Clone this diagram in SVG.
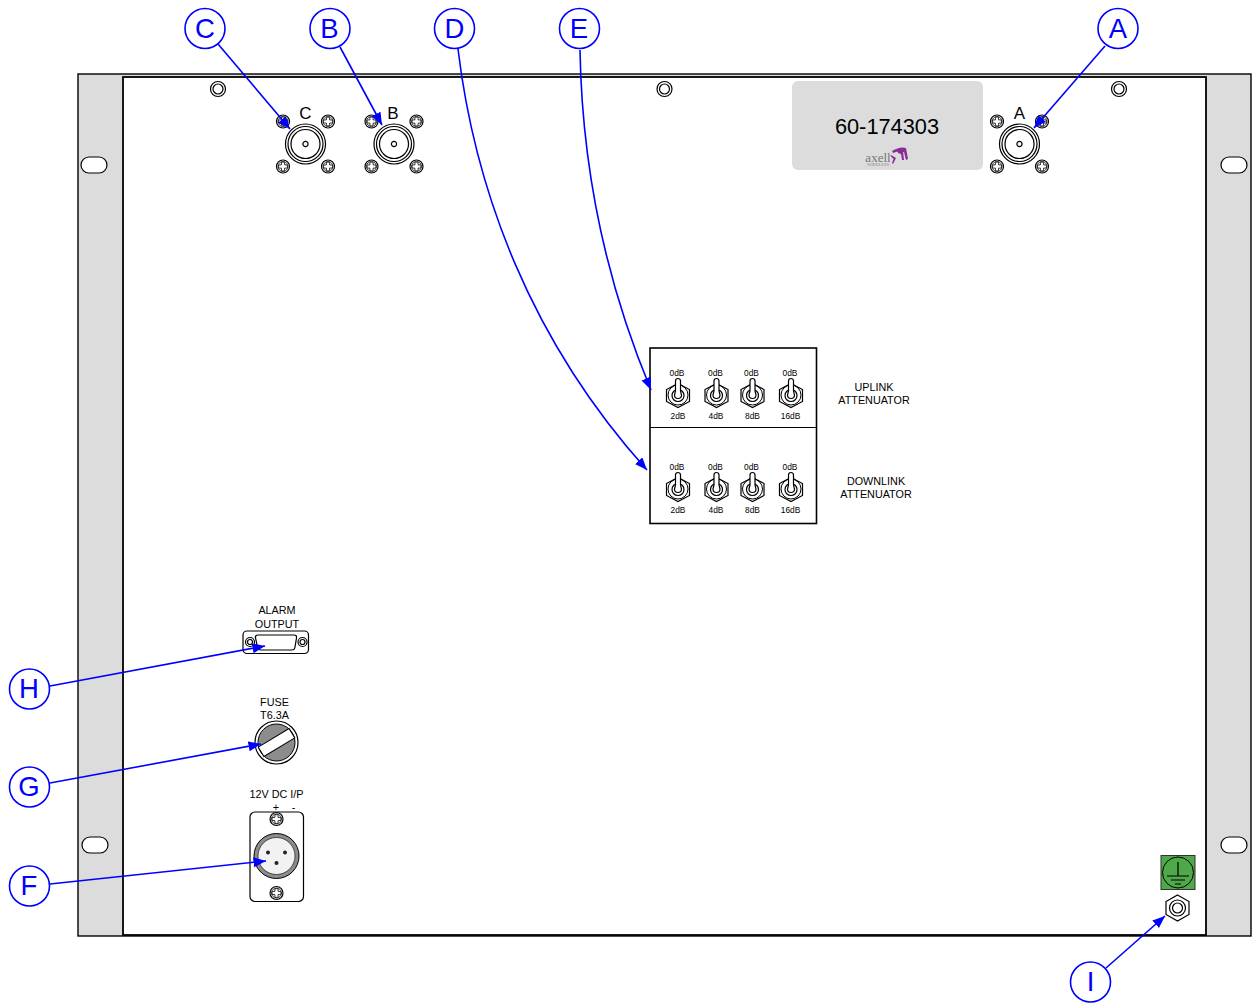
<svg xmlns="http://www.w3.org/2000/svg" width="1255" height="1003" viewBox="0 0 1255 1003">
<style>
.s{fill:none;stroke:#000;stroke-width:1.2}
.w{fill:#fff;stroke:#000;stroke-width:1.2}
text{font-family:"Liberation Sans",Arial,sans-serif;fill:#000}
.t{font-size:10.8px;text-anchor:middle}
.d{font-size:8.4px;text-anchor:middle}
.c{font-size:17px;text-anchor:middle}
.l{font-size:27.5px;text-anchor:middle;fill:#00f}
.lc{fill:#fff;stroke:#00f;stroke-width:1.6}
.a{fill:none;stroke:#00f;stroke-width:1.6;marker-end:url(#ah)}
</style>
<defs>
<marker id="ah" markerUnits="userSpaceOnUse" markerWidth="14" markerHeight="12" refX="12.500" refY="5" orient="auto"><path d="M0 0L12.500 5L0 10Z" fill="#00f"/></marker>
<g id="screw"><circle r="6.500" class="w"/><circle r="5" fill="none" stroke="#000" stroke-width=".7"/><path d="M-1.600-4.400h3.200v2.800h2.800v3.200h-2.800v2.800h-3.200v-2.800h-2.800v-3.200h2.800z" fill="#fff" stroke="#000" stroke-width=".8"/></g>
<g id="rf"><use href="#screw" x="-22.500" y="-22.500"/><use href="#screw" x="22.500" y="-22.500"/><use href="#screw" x="-22.500" y="22.500"/><use href="#screw" x="22.500" y="22.500"/><circle r="20" class="w"/><circle r="17.500" class="s"/><circle r="14.500" class="s"/><circle r="2.600" class="s"/></g>
<g id="tog"><path d="M0-11.500L11.500-5.500V6.500L0 12.500L-11.500 6.500V-5.500Z" class="w" stroke-width="1.600"/><circle r="10" fill="none" stroke="#000" stroke-width="1"/><circle cy=".5" r="6" class="w"/><path d="M-2.500 -1V-14a2.500 2.500 0 0 1 5 0V-1l1 3h-7Z" fill="#fff" stroke="none"/><path d="M-3.500 0L-2.500 -4V-14a2.500 2.500 0 0 1 5 0V-4L3.500 0a3.500 3.500 0 0 1-7 0Z" class="w" stroke-width="1"/></g>
<rect id="slot" x="-13" y="-8" width="26" height="16" rx="8" class="w" stroke-width="1.400"/>
</defs>
<g id="chassis">
<rect x="78" y="74" width="1173" height="862" fill="#dcdcdc" stroke="#000" stroke-width="1.400"/>
<rect x="123" y="77" width="1083" height="858" fill="#fff" stroke="#000" stroke-width="1.800"/>
<use href="#slot" x="94" y="165"/><use href="#slot" x="1234" y="165"/><use href="#slot" x="95" y="845"/><use href="#slot" x="1234" y="845"/>
</g>
<g id="mount-holes">
<g><circle cx="218" cy="89" r="7.500" class="w"/><circle cx="218" cy="89" r="5" class="s"/></g>
<g><circle cx="664.500" cy="89" r="7.500" class="w"/><circle cx="664.500" cy="89" r="5" class="s"/></g>
<g><circle cx="1119" cy="89" r="7.500" class="w"/><circle cx="1119" cy="89" r="5" class="s"/></g>
</g>
<g id="label-plate">
<rect x="792" y="81" width="191" height="89" rx="6" fill="#dcdcdc"/>
<text x="887" y="134" font-size="21.800" text-anchor="middle">60-174303</text>
<text x="878" y="161.500" font-size="13" text-anchor="middle" style="font-family:'Liberation Serif',serif;fill:#777">axell</text>
<path d="M892 151q8-5 14-3l2 11-2 1-2-8q-5-2-11 1zM891 155l5 3-3 6-1-1 1.500-4-3-3zM897 150l6 1 1 9-2 0-1-6-3-1z" fill="#8a2d96"/>
<text x="878" y="166" font-size="4.500" text-anchor="middle" style="fill:#888;font-family:'Liberation Serif',serif">WIRELESS</text>
</g>
<g id="conn-c"><use href="#rf" x="305.500" y="144"/><text class="c" x="305.500" y="119">C</text></g>
<g id="conn-b"><use href="#rf" x="394" y="144"/><text class="c" x="393" y="119">B</text></g>
<g id="conn-a"><use href="#rf" x="1019.500" y="144"/><text class="c" x="1019.500" y="119">A</text></g>
<g id="attenuators">
<rect x="650" y="348" width="166.500" height="175.500" fill="#fff" stroke="#000" stroke-width="1.600"/>
<path d="M650 427.500H816.500" class="s" stroke-width="1.600"/>
<use href="#tog" x="678" y="395"/><use href="#tog" x="716.500" y="395"/><use href="#tog" x="752.500" y="395"/><use href="#tog" x="791" y="395"/>
<use href="#tog" x="678" y="489"/><use href="#tog" x="716.500" y="489"/><use href="#tog" x="752.500" y="489"/><use href="#tog" x="791" y="489"/>
<text class="d" x="677" y="376">0dB</text><text class="d" x="715.500" y="376">0dB</text><text class="d" x="751.500" y="376">0dB</text><text class="d" x="790" y="376">0dB</text>
<text class="d" x="678" y="419">2dB</text><text class="d" x="716" y="419">4dB</text><text class="d" x="752.500" y="419">8dB</text><text class="d" x="790.500" y="419">16dB</text>
<text class="d" x="677" y="470">0dB</text><text class="d" x="715.500" y="470">0dB</text><text class="d" x="751.500" y="470">0dB</text><text class="d" x="790" y="470">0dB</text>
<text class="d" x="678" y="513">2dB</text><text class="d" x="716" y="513">4dB</text><text class="d" x="752.500" y="513">8dB</text><text class="d" x="790.500" y="513">16dB</text>
<text class="t" x="874" y="391">UPLINK</text><text class="t" x="874" y="404">ATTENUATOR</text>
<text class="t" x="876" y="485">DOWNLINK</text><text class="t" x="876" y="498">ATTENUATOR</text>
</g>
<g id="alarm-output">
<text class="t" x="277" y="614">ALARM</text><text class="t" x="277" y="628">OUTPUT</text>
<rect x="243" y="631" width="65.500" height="22.500" rx="4" class="w"/>
<path d="M258 635H294q3 0 2.500 3L295 647q-.5 3-3 3H261q-3 0-3.500-3L255.500 638q-.5-3 2.500-3Z" class="w"/>
<circle cx="250" cy="642" r="4.500" class="w" stroke-width="1.400"/><circle cx="250" cy="642" r="2.500" class="s"/>
<circle cx="302.500" cy="642" r="4.500" class="w" stroke-width="1.400"/><circle cx="302.500" cy="642" r="2.500" class="s"/>
</g>
<g id="fuse">
<text class="t" x="274.500" y="706">FUSE</text><text class="t" x="274.500" y="719">T6.3A</text>
<circle cx="276.500" cy="742.500" r="21.500" class="w"/><circle cx="276.500" cy="742.500" r="18.500" fill="#8c8c8c" stroke="#000"/>
<rect x="-18" y="-5.500" width="36" height="11" fill="#fff" stroke="#000" transform="translate(276.500 742.500) rotate(-31)"/>
</g>
<g id="dc-input">
<text class="t" x="276.500" y="798">12V DC I/P</text>
<text x="276" y="811" font-size="10.800" text-anchor="middle">+</text><text x="293.500" y="811" font-size="10.800" text-anchor="middle">-</text>
<rect x="250" y="812" width="53.500" height="89.500" rx="5" class="w"/>
<use href="#screw" x="276.500" y="819"/><use href="#screw" x="276.500" y="893"/>
<circle cx="276.500" cy="856" r="22.500" fill="#8c8c8c" stroke="#000"/><circle cx="276.500" cy="856" r="18.500" fill="#f2f2f2" stroke="#000" stroke-width=".6"/>
<circle cx="268" cy="852.500" r="2" fill="#222"/><circle cx="285" cy="852.500" r="2" fill="#222"/><circle cx="276.500" cy="863" r="2" fill="#222"/>
</g>
<g id="earth">
<rect x="1161" y="855.500" width="34" height="34" fill="#4fa84a" stroke="#333"/>
<circle cx="1178" cy="872.500" r="15.500" fill="none" stroke="#000"/>
<path d="M1178 862V876M1167 876H1189M1171 880H1185M1175 884H1181" class="s"/>
<path d="M1177.500 895L1189 901.500V914.500L1177.500 921L1166 914.500V901.500Z" class="w"/>
<circle cx="1177.500" cy="908" r="8" class="w"/><circle cx="1177.500" cy="908" r="5" class="s"/>
</g>
<g id="connectors">
<path class="a" d="M218 44L290 129"/>
<path class="a" d="M340 47L382 125"/>
<path class="a" d="M458 49C475 190 530 340 647 470"/>
<path class="a" d="M580 50C582 170 605 280 651 390"/>
<path class="a" d="M1105 46L1034 128"/>
<path class="a" d="M50 686L265 646"/>
<path class="a" d="M50 783L261 744"/>
<path class="a" d="M50 884L266 861"/>
<path class="a" d="M1106 968L1165 916"/>
</g>
<g id="callout-c"><circle class="lc" cx="205" cy="28.500" r="20"/><text class="l" x="205" y="37.500">C</text></g>
<g id="callout-b"><circle class="lc" cx="330" cy="28.500" r="20"/><text class="l" x="329.500" y="37.500">B</text></g>
<g id="callout-d"><circle class="lc" cx="454.500" cy="28.500" r="20"/><text class="l" x="454.500" y="37.500">D</text></g>
<g id="callout-e"><circle class="lc" cx="579.500" cy="28.500" r="20"/><text class="l" x="579" y="37.500">E</text></g>
<g id="callout-a"><circle class="lc" cx="1118" cy="28.500" r="20"/><text class="l" x="1118" y="37.500">A</text></g>
<g id="callout-h"><circle class="lc" cx="29.500" cy="689" r="20"/><text class="l" x="29" y="698">H</text></g>
<g id="callout-g"><circle class="lc" cx="29.500" cy="787" r="20"/><text class="l" x="29" y="796">G</text></g>
<g id="callout-f"><circle class="lc" cx="29.500" cy="886" r="20"/><text class="l" x="29" y="895">F</text></g>
<g id="callout-i"><circle class="lc" cx="1090.500" cy="982" r="20"/><text class="l" x="1090.500" y="991">I</text></g>
</svg>
